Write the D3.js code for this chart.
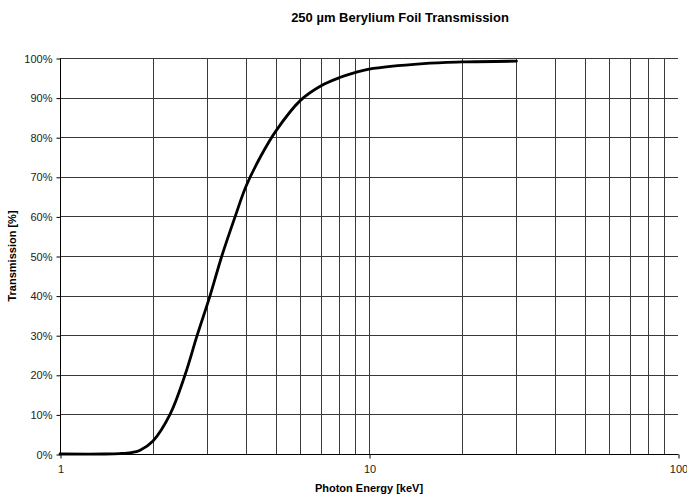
<!DOCTYPE html>
<html><head><meta charset="utf-8">
<script src="https://cdn.jsdelivr.net/npm/d3@7"></script>
<style>body{margin:0;background:#fff}svg{display:block;font-family:"Liberation Sans",Arial,sans-serif}</style>
</head><body><svg id="c" width="687" height="499"></svg>
<script>
const energy = [1, 1.4, 1.56, 1.7, 1.81, 2, 2.27, 2.54, 2.78, 3.06, 3.34, 3.69, 4, 4.45, 5, 6, 7, 8, 9, 10, 15, 20, 30];
const transmission = [0, 0, 0.1, 0.35, 0.9, 3.3, 10, 20, 30, 40, 50, 60, 67.6, 75, 81.6, 89.3, 93.0, 95.0, 96.3, 97.2, 98.6, 99.0, 99.2];
const xTicks = [1, 10, 100];
const xGrid = [2,3,4,5,6,7,8,9,10,20,30,40,50,60,70,80,90];
const yTicks = [0,10,20,30,40,50,60,70,80,90,100];
const title = "250 µm Berylium Foil Transmission";
const xTitle = "Photon Energy [keV]";
const yTitle = "Transmission [%]";

const svg = d3.select("#c");
const L = 60, R = 678, T = 58, B = 454;
const x = d3.scaleLog().domain([1,100]).range([L,R]);
const y = d3.scaleLinear().domain([0,100]).range([B,T]);

const g = svg.append("g");
g.selectAll(".hg").data(yTicks.filter(d=>d>0)).join("line")
  .attr("x1",L).attr("x2",R).attr("y1",d=>Math.round(y(d))+0.5).attr("y2",d=>Math.round(y(d))+0.5)
  .attr("stroke","#3a3a3a").attr("stroke-width",1);
g.selectAll(".vg").data(xGrid).join("line")
  .attr("x1",d=>Math.round(x(d))+0.5).attr("x2",d=>Math.round(x(d))+0.5).attr("y1",T).attr("y2",B)
  .attr("stroke","#3a3a3a").attr("stroke-width",1);

const xAxis = d3.axisBottom(x).tickValues(xTicks).tickFormat(d3.format("d")).tickSize(4).tickPadding(7);
const xa = svg.append("g").attr("transform",`translate(0.5,${B+0.5})`).call(xAxis);
xa.select(".domain").attr("stroke","#000").attr("d",`M${L},0H${R}`);
xa.selectAll("text").attr("font-size",11).attr("fill","#222").attr("font-family","Liberation Sans, Arial, sans-serif");

const yAxis = d3.axisLeft(y).tickValues(yTicks).tickFormat(d=>d+"%").tickSize(4).tickPadding(4);
const ya = svg.append("g").attr("transform",`translate(${L+0.5},0.5)`).call(yAxis);
ya.select(".domain").attr("stroke","#000").attr("d",`M0,${T}V${B}`);
ya.selectAll("text").attr("font-size",11).attr("fill","#222").attr("font-family","Liberation Sans, Arial, sans-serif");

const pts = energy.map((e,i)=>[e,transmission[i]]);
const line = d3.line().x(d=>x(d[0])).y(d=>y(d[1])).curve(d3.curveCatmullRom.alpha(0.5));
svg.append("path").datum(pts).attr("d",line).attr("fill","none")
  .attr("stroke","#000").attr("stroke-width",2.8).attr("stroke-linejoin","round").attr("stroke-linecap","round");

svg.append("text").attr("x",400).attr("y",22).attr("text-anchor","middle")
  .attr("font-size",13).attr("font-weight","bold").text(title);
svg.append("text").attr("x",369).attr("y",492).attr("text-anchor","middle")
  .attr("font-size",11).attr("font-weight","bold").text(xTitle);
svg.append("text").attr("transform","translate(16,256) rotate(-90)").attr("text-anchor","middle")
  .attr("font-size",11).attr("font-weight","bold").text(yTitle);
</script></body></html>
